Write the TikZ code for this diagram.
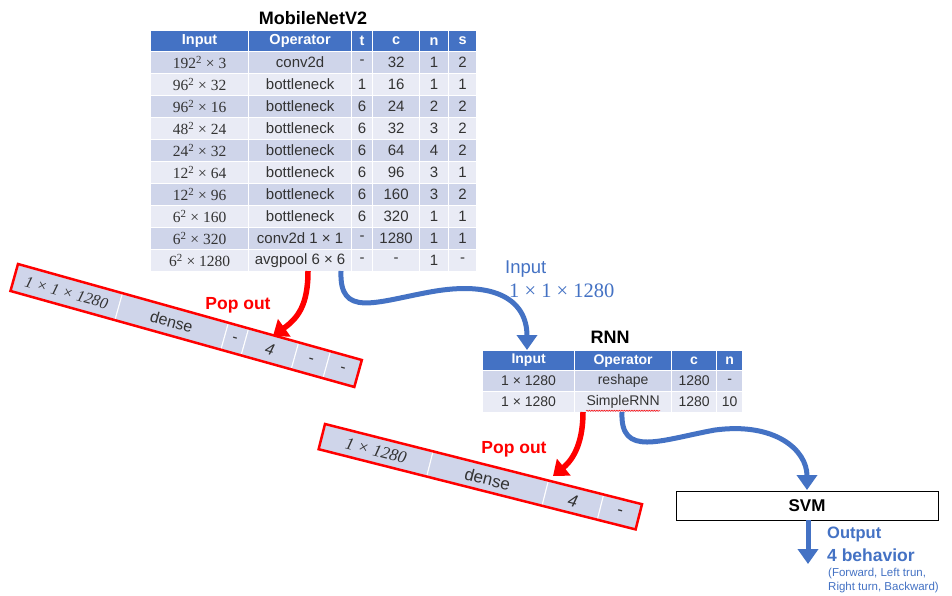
\documentclass[tikz,border=0pt]{standalone}
\usepackage{fontspec}
\setmainfont{Liberation Sans}
\newfontfamily\mathserif{Liberation Serif}
\usetikzlibrary{arrows.meta,decorations.pathmorphing}

\definecolor{hdr}{HTML}{4472C4}
\definecolor{rowA}{HTML}{CFD5EA}
\definecolor{rowB}{HTML}{E9EBF5}
\definecolor{flow}{HTML}{4472C4}
\definecolor{popred}{HTML}{FF0000}
\definecolor{txt}{HTML}{333333}

\newcommand\sq[1]{#1\textsuperscript{2}}

\tikzset{
  cellbox/.style={draw=white, line width=1.2pt, anchor=north west, inner sep=0pt,
    minimum height=22pt, text=txt, font=\fontsize{15}{16}\selectfont},
  headbox/.style={cellbox, fill=hdr, text=white, minimum height=21pt,
    font=\bfseries\fontsize{14.5}{15}\selectfont},
  rnncell/.style={cellbox, minimum height=21pt, font=\fontsize{14}{15}\selectfont},
  rnnhead/.style={headbox, minimum height=20pt, font=\bfseries\fontsize{14}{15}\selectfont},
  title/.style={font=\bfseries\fontsize{18}{20}\selectfont, text=black},
  popout/.style={font=\bfseries\fontsize{17.5}{19}\selectfont, text=popred},
  bluelabel/.style={text=flow, anchor=west, inner sep=0pt},
  flowarrow/.style={draw=flow, line width=5pt,
    -{Triangle[length=15pt,width=20pt]}},
  poparrow/.style={draw=popred, line width=5.5pt,
    -{Triangle[length=14pt,width=21pt]}},
  tiltcell/.style={draw=white, line width=1pt, anchor=north west, inner sep=0pt,
    fill=rowA, text=txt, font=\fontsize{16}{17}\selectfont},
  tiltframe/.style={draw=popred, line width=2.5pt},
}

% one body row of the MobileNetV2 table
\newcommand\netrow[8]{%
  \edef\rf{\ifodd#1 rowA\else rowB\fi}%
  \node[cellbox, fill=\rf, minimum width=98pt]  (mn-#1-1) at (150,#2) {\mathserif\fontsize{15.5}{16}\selectfont #3};
  \node[cellbox, fill=\rf, minimum width=103pt] (mn-#1-2) at (248,#2) {#4};
  \node[cellbox, fill=\rf, minimum width=21pt]  (mn-#1-3) at (351,#2) {#5};
  \node[cellbox, fill=\rf, minimum width=47pt]  (mn-#1-4) at (372,#2) {#6};
  \node[cellbox, fill=\rf, minimum width=29pt]  (mn-#1-5) at (419,#2) {#7};
  \node[cellbox, fill=\rf, minimum width=28pt]  (mn-#1-6) at (448,#2) {#8};
}

\begin{document}
\begin{tikzpicture}[x=1pt, y=-1pt]
\useasboundingbox (0,0) rectangle (952,595);
\fill[white] (0,0) rectangle (952,595);

% ---------------- MobileNetV2 table ----------------
\node[title] (mnTitle) at (313,18) {MobileNetV2};
\node[headbox, minimum width=98pt]  (mh1) at (150,30) {Input};
\node[headbox, minimum width=103pt] (mh2) at (248,30) {Operator};
\node[headbox, minimum width=21pt]  (mh3) at (351,30) {t};
\node[headbox, minimum width=47pt]  (mh4) at (372,30) {c};
\node[headbox, minimum width=29pt]  (mh5) at (419,30) {n};
\node[headbox, minimum width=28pt]  (mh6) at (448,30) {s};

\netrow{1}{51}{\sq{192} × 3}{conv2d}{-}{32}{1}{2}
\netrow{2}{73}{\sq{96} × 32}{bottleneck}{1}{16}{1}{1}
\netrow{3}{95}{\sq{96} × 16}{bottleneck}{6}{24}{2}{2}
\netrow{4}{117}{\sq{48} × 24}{bottleneck}{6}{32}{3}{2}
\netrow{5}{139}{\sq{24} × 32}{bottleneck}{6}{64}{4}{2}
\netrow{6}{161}{\sq{12} × 64}{bottleneck}{6}{96}{3}{1}
\netrow{7}{183}{\sq{12} × 96}{bottleneck}{6}{160}{3}{2}
\netrow{8}{205}{\sq{6} × 160}{bottleneck}{6}{320}{1}{1}
\netrow{9}{227}{\sq{6} × 320}{conv2d 1 × 1}{-}{1280}{1}{1}
\netrow{10}{249}{\sq{6} × 1280}{avgpool 6 × 6}{-}{-}{1}{-}

% ---------------- popped-out dense row (MobileNetV2) ----------------
\begin{scope}[shift={(18,264)}, rotate=-15.6, transform shape]
  \node[tiltcell, minimum width=108pt, minimum height=28pt] (d1-1) at (0,0)
    {\mathserif\itshape\fontsize{16}{17}\selectfont 1 × 1 × 1280};
  \node[tiltcell, minimum width=110pt, minimum height=28pt] (d1-2) at (108,0) {dense};
  \node[tiltcell, minimum width=21pt, minimum height=28pt]  (d1-3) at (218,0) {-};
  \node[tiltcell, minimum width=52pt, minimum height=28pt]  (d1-4) at (239,0) {\itshape 4};
  \node[tiltcell, minimum width=33pt, minimum height=28pt]  (d1-5) at (291,0) {-};
  \node[tiltcell, minimum width=33pt, minimum height=28pt]  (d1-6) at (324,0) {-};
  \draw[tiltframe] (0,0) rectangle (357,28);
\end{scope}

% ---------------- RNN table ----------------
\node[title] (rnnTitle) at (610,337) {RNN};
\node[rnnhead, minimum width=92pt] (rh1) at (482,350) {Input};
\node[rnnhead, minimum width=97pt] (rh2) at (574,350) {Operator};
\node[rnnhead, minimum width=45pt] (rh3) at (671,350) {c};
\node[rnnhead, minimum width=26pt] (rh4) at (716,350) {n};

\node[rnncell, fill=rowA, minimum width=92pt] (r1-1) at (482,370) {1 × 1280};
\node[rnncell, fill=rowA, minimum width=97pt] (r1-2) at (574,370) {reshape};
\node[rnncell, fill=rowA, minimum width=45pt] (r1-3) at (671,370) {1280};
\node[rnncell, fill=rowA, minimum width=26pt] (r1-4) at (716,370) {-};
\node[rnncell, fill=rowB, minimum width=92pt] (r2-1) at (482,391) {1 × 1280};
\node[rnncell, fill=rowB, minimum width=97pt] (r2-2) at (574,391) {SimpleRNN};
\node[rnncell, fill=rowB, minimum width=45pt] (r2-3) at (671,391) {1280};
\node[rnncell, fill=rowB, minimum width=26pt] (r2-4) at (716,391) {10};
% spell-check squiggle under SimpleRNN
\draw[popred, line width=0.5pt, decorate,
  decoration={snake, amplitude=0.6pt, segment length=2.5pt}]
  ([xshift=-37pt, yshift=2.5pt]r2-2.south) -- ([xshift=37pt, yshift=2.5pt]r2-2.south);

% ---------------- popped-out dense row (RNN) ----------------
\begin{scope}[shift={(325,424)}, rotate=-14.2, transform shape]
  \node[tiltcell, minimum width=111pt, minimum height=26pt] (d2-1) at (0,0)
    {\mathserif\itshape\fontsize{17}{18}\selectfont 1 × 1280};
  \node[tiltcell, minimum width=119pt, minimum height=26pt, font=\fontsize{17}{18}\selectfont] (d2-2) at (111,0) {dense};
  \node[tiltcell, minimum width=57pt, minimum height=26pt, font=\fontsize{17}{18}\selectfont]  (d2-3) at (230,0) {\itshape 4};
  \node[tiltcell, minimum width=40pt, minimum height=26pt, font=\fontsize{17}{18}\selectfont]  (d2-4) at (287,0) {-};
  \draw[tiltframe] (0,0) rectangle (327,26);
\end{scope}

% ---------------- SVM ----------------
\node[draw=black, line width=0.9pt, fill=white, minimum width=262pt, minimum height=29pt,
  inner sep=0pt, font=\bfseries\fontsize{17}{18}\selectfont] (svm) at (807,505.5) {SVM};

% ---------------- labels ----------------
\node[popout] (pop1) at (238,305) {Pop out};
\node[popout] (pop2) at (514,449) {Pop out};
\node[bluelabel, font=\fontsize{18.5}{19}\selectfont] (inLab) at (505,269) {Input};
\node[bluelabel, font=\mathserif\fontsize{20.5}{21}\selectfont] (inDim) at (509,291) {1 × 1 × 1280};
\node[bluelabel, font=\bfseries\fontsize{16.5}{17}\selectfont] (outLab) at (827,534) {Output};
\node[bluelabel, font=\bfseries\fontsize{17.5}{18}\selectfont] (outNum) at (827,555) {4 behavior};
\node[bluelabel, font=\fontsize{11.5}{12}\selectfont] (outA) at (828,574) {(Forward, Left trun,};
\node[bluelabel, font=\fontsize{11.5}{12}\selectfont] (outB) at (828,587.5) {Right turn, Backward)};

% ---------------- connectors ----------------
\coordinate (mnOutA) at (308,271);
\coordinate (mnOutB) at (341,271);
\coordinate (rnnOutA) at (583,412);
\coordinate (rnnOutB) at (622,412);
\coordinate (d1Tip) at (273,336);
\coordinate (d2Tip) at (553,476);
\coordinate (rnnIn) at (527,350);
\coordinate (svmIn) at (807,490);
\coordinate (outTip) at (808,564);

\draw[poparrow] (mnOutA) .. controls (308,305) and (298,318) .. (d1Tip);
\draw[poparrow] (rnnOutA) .. controls (583,440) and (575,458) .. (d2Tip);
\draw[flowarrow] (mnOutB) .. controls (339,318) and (375,302) .. (430,292)
  .. controls (495,280) and (527,300) .. (rnnIn);
\draw[flowarrow] (rnnOutB) .. controls (620,458) and (660,440) .. (715,430)
  .. controls (775,422) and (807,450) .. (svmIn);
\draw[flowarrow] (svm.south -| outTip) -- (outTip);
\end{tikzpicture}
\end{document}
